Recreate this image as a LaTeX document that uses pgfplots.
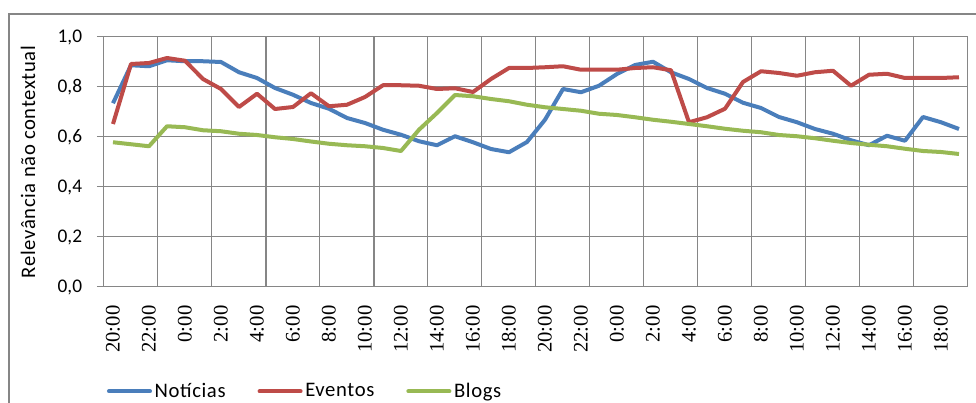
\documentclass[border=0pt]{standalone}
\usepackage{fontspec}
\setmainfont{Carlito}
\newfontfamily\lblfont{Carlito}[LetterSpace=3]
\newfontfamily\timefont{Liberation Serif}
\usepackage{pgfplots}
\pgfplotsset{compat=1.18}
\usepackage{pgfplotstable}

\definecolor{gridgray}{RGB}{134,134,134}
\definecolor{cblue}{RGB}{74,126,187}
\definecolor{cred}{RGB}{190,75,72}
\definecolor{cgreen}{RGB}{152,185,84}

% one row per hour, from 20:00 of day 1 to 19:00 of day 3
\pgfplotstableread{
i  n     e     b
0  0.735 0.652 0.579
1  0.887 0.892 0.571
2  0.883 0.896 0.563
3  0.907 0.916 0.643
4  0.903 0.905 0.639
5  0.903 0.832 0.627
6  0.900 0.792 0.623
7  0.859 0.720 0.613
8  0.836 0.773 0.608
9  0.796 0.712 0.599
10 0.769 0.720 0.592
11 0.736 0.775 0.582
12 0.713 0.723 0.573
13 0.676 0.729 0.567
14 0.656 0.760 0.563
15 0.629 0.807 0.556
16 0.609 0.807 0.544
17 0.583 0.805 0.629
18 0.567 0.792 0.696
19 0.603 0.795 0.768
20 0.579 0.780 0.763
21 0.552 0.832 0.752
22 0.539 0.876 0.743
23 0.580 0.876 0.729
24 0.669 0.879 0.719
25 0.792 0.883 0.712
26 0.779 0.869 0.705
27 0.805 0.869 0.693
28 0.852 0.869 0.688
29 0.888 0.876 0.679
30 0.901 0.879 0.669
31 0.859 0.867 0.661
32 0.832 0.659 0.652
33 0.796 0.679 0.643
34 0.773 0.713 0.633
35 0.737 0.820 0.625
36 0.716 0.863 0.619
37 0.680 0.856 0.608
38 0.659 0.845 0.603
39 0.632 0.859 0.595
40 0.613 0.865 0.585
41 0.587 0.805 0.576
42 0.567 0.849 0.569
43 0.605 0.853 0.563
44 0.585 0.836 0.553
45 0.680 0.836 0.544
46 0.659 0.836 0.540
47 0.632 0.839 0.532
}\datatable

\begin{document}
\begin{tikzpicture}
\path[use as bounding box, clip] (-78pt,-87pt) rectangle (654pt,215.25pt);
\fill[white] (-78pt,-87pt) rectangle (654pt,215.25pt);
% chart frame, cut by the picture's right and bottom edges
\draw[gridgray, line width=1pt] (-71.25pt,-120pt) -- (-71.25pt,204.75pt) -- (700pt,204.75pt);
\begin{axis}[
  at={(0,0)}, anchor=south west,
  scale only axis, width=648pt, height=187.5pt,
  xmin=-0.5, xmax=47.5, ymin=0, ymax=1,
  axis x line*=bottom, axis y line*=left,
  axis line style={gridgray, line width=0.75pt, -},
  xtick={0,2,...,46},
  xticklabels={20:00,22:00,0:00,2:00,4:00,6:00,8:00,10:00,12:00,14:00,16:00,18:00,
               20:00,22:00,0:00,2:00,4:00,6:00,8:00,10:00,12:00,14:00,16:00,18:00},
  xtick style={draw=none},
  minor xtick={-0.5,2.5,...,47.5},
  extra x ticks={8.5,14.5},
  extra x tick labels={},
  extra x tick style={xmajorgrids=true, major grid style={gridgray, line width=1.5pt}},
  ytick={0,0.2,0.4,0.6,0.8,1},
  ymajorgrids, xminorgrids,
  grid style={gridgray, line width=0.75pt},
  tick align=outside,
  major tick length=5.25pt, minor tick length=4.5pt,
  tick style={gridgray, line width=0.75pt},
  yticklabel shift=11pt,
  xticklabel shift=8.5pt,
  yticklabel style={font=\fontsize{14.5}{17}\selectfont, anchor=east, inner sep=0pt,
    /pgf/number format/.cd, use comma, fixed, fixed zerofill, precision=1, assume math mode=true},
  xticklabel style={font=\timefont\fontsize{15.5}{18}\selectfont, rotate=90, anchor=east, inner sep=0pt},
  ylabel={Relevância não contextual},
  ylabel style={at={(axis description cs:-0.08796,0.5)}, anchor=center, font=\lblfont\fontsize{15.5}{18}\selectfont},
  legend style={at={(axis description cs:0.00347,-0.417)}, anchor=west, draw=none, fill=none,
    inner sep=0pt, outer sep=0pt, font=\lblfont\fontsize{15.5}{18}\selectfont,
    nodes={inner sep=0pt},
    /tikz/every odd column/.append style={column sep=2pt},
    /tikz/every even column/.append style={column sep=24pt}},
  legend columns=3,
  legend image code/.code={\draw[#1, line cap=round] (1.5pt,0pt) -- (32.25pt,0pt);},
  no markers,
  clip=false,
]
\addplot[cblue, line width=3pt, line join=round] table[x=i, y=n] {\datatable};
\addlegendentry{Notícias}
\addplot[cred, line width=3pt, line join=round] table[x=i, y=e] {\datatable};
\addlegendentry{Eventos}
\addplot[cgreen, line width=3pt, line join=round] table[x=i, y=b] {\datatable};
\addlegendentry{Blogs}
\end{axis}
\end{tikzpicture}
\end{document}
